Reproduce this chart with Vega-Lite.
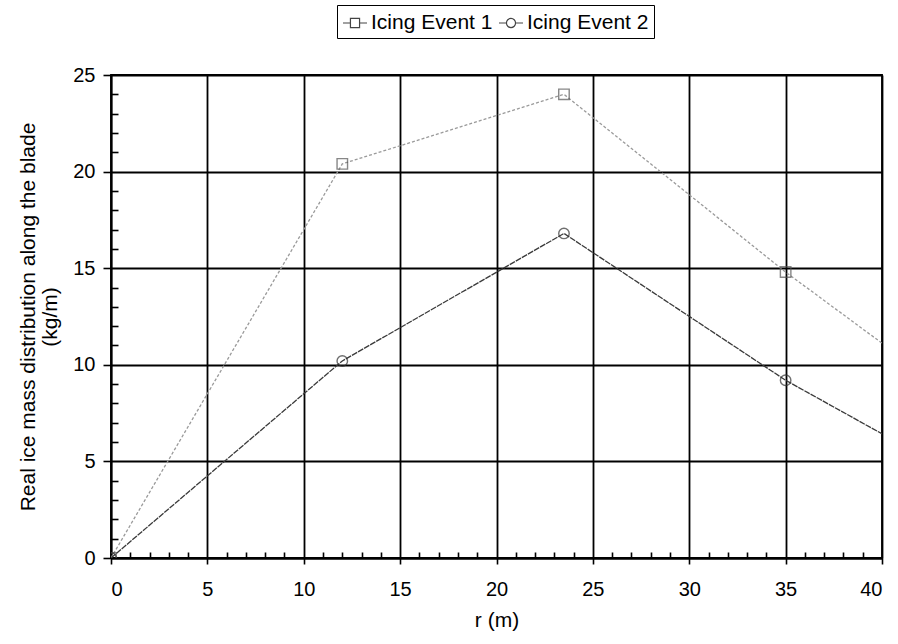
{
  "$schema": "https://vega.github.io/schema/vega-lite/v6.json",
  "width": 771,
  "height": 483,
  "autosize": {"type": "none"},
  "padding": {"left": 111, "top": 75, "right": 16, "bottom": 86},
  "background": "white",
  "config": {
    "font": "Liberation Sans",
    "view": {"stroke": "black", "strokeWidth": 1.8}
  },
  "data": {
    "values": [
      {"r": 0, "mass": 0, "series": "Icing Event 1"},
      {"r": 12, "mass": 20.4, "series": "Icing Event 1"},
      {"r": 23.5, "mass": 24.0, "series": "Icing Event 1"},
      {"r": 35, "mass": 14.8, "series": "Icing Event 1"},
      {"r": 46, "mass": 6.7, "series": "Icing Event 1"},
      {"r": 0, "mass": 0, "series": "Icing Event 2"},
      {"r": 12, "mass": 10.2, "series": "Icing Event 2"},
      {"r": 23.5, "mass": 16.8, "series": "Icing Event 2"},
      {"r": 35, "mass": 9.2, "series": "Icing Event 2"},
      {"r": 46, "mass": 3.1, "series": "Icing Event 2"}
    ]
  },
  "encoding": {
    "x": {
      "field": "r", "type": "quantitative",
      "scale": {"domain": [0, 40], "nice": false},
      "axis": {
        "title": "r (m)",
        "titleFontSize": 21, "titleFontWeight": "normal", "titleColor": "black", "titlePadding": 10,
        "values": [0,1,2,3,4,5,6,7,8,9,10,11,12,13,14,15,16,17,18,19,20,21,22,23,24,25,26,27,28,29,30,31,32,33,34,35,36,37,38,39,40],
        "labelExpr": "datum.value % 5 === 0 ? datum.label : ''",
        "labelFontSize": 20, "labelColor": "black", "labelPadding": 15,
        "domainColor": "black", "domainWidth": 1.8,
        "tickColor": "black", "tickWidth": 1.6,
        "tickSize": {"condition": {"test": "datum.value % 5 !== 0", "value": -6}, "value": 6},
        "grid": true, "gridColor": "black", "gridWidth": 1.8,
        "gridOpacity": {"condition": {"test": "datum.value % 5 === 0", "value": 1}, "value": 0}
      }
    },
    "y": {
      "field": "mass", "type": "quantitative",
      "scale": {"domain": [0, 25], "nice": false},
      "axis": {
        "title": ["Real ice mass distribution along the blade", "(kg/m)"],
        "titleFontSize": 21, "titleFontWeight": "normal", "titleColor": "black", "titlePadding": 12, "titleLineHeight": 22,
        "values": [0,1,2,3,4,5,6,7,8,9,10,11,12,13,14,15,16,17,18,19,20,21,22,23,24,25],
        "labelExpr": "datum.value % 5 === 0 ? datum.label : ''",
        "labelFontSize": 20, "labelColor": "black", "labelPadding": 8,
        "domainColor": "black", "domainWidth": 1.8,
        "tickColor": "black", "tickWidth": 1.6,
        "tickSize": {"condition": {"test": "datum.value % 5 !== 0", "value": -7}, "value": 8},
        "grid": true, "gridColor": "black", "gridWidth": 1.8,
        "gridOpacity": {"condition": {"test": "datum.value % 5 === 0", "value": 1}, "value": 0}
      }
    }
  },
  "layer": [
    {
      "mark": {"type": "line", "clip": true, "strokeWidth": 1.3},
      "encoding": {
        "color": {"field": "series", "type": "nominal", "scale": {"domain": ["Icing Event 1", "Icing Event 2"], "range": ["#9a9a9a", "#3a3a3a"]}, "legend": null},
        "strokeDash": {"field": "series", "type": "nominal", "scale": {"domain": ["Icing Event 1", "Icing Event 2"], "range": [[3, 2], [6, 1]]}, "legend": null}
      }
    },
    {
      "mark": {"type": "point", "clip": true, "filled": false, "size": 110, "strokeWidth": 1.4},
      "encoding": {
        "shape": {"field": "series", "type": "nominal", "scale": {"domain": ["Icing Event 1", "Icing Event 2"], "range": ["square", "circle"]}, "legend": null},
        "color": {"field": "series", "type": "nominal", "scale": {"domain": ["Icing Event 1", "Icing Event 2"], "range": ["#555555", "#333333"]}, "legend": null}
      }
    },
    {
      "transform": [{"filter": "false"}],
      "mark": {"type": "point", "filled": false, "strokeWidth": 1.2, "color": "#444444"},
      "encoding": {
        "shape": {
          "field": "series", "type": "nominal",
          "scale": {"domain": ["Icing Event 1", "Icing Event 2"], "range": [
            "M-1,0H-0.38M0.38,0H1M-0.38,-0.38H0.38V0.38H-0.38Z",
            "M-1,0H-0.38M0.38,0H1M0.38,0A0.38,0.38,0,1,1,-0.38,0A0.38,0.38,0,1,1,0.38,0Z"
          ]},
          "legend": {
            "title": null, "orient": "none", "direction": "horizontal",
            "legendX": 226, "legendY": -70,
            "labelFontSize": 21, "labelColor": "black", "labelOffset": 3,
            "symbolSize": 576, "symbolStrokeColor": "#444444", "symbolStrokeWidth": 1.2, "symbolFillColor": "transparent",
            "strokeColor": "black", "padding": 5, "columnPadding": 3,
            "symbolOpacity": 1
          }
        }
      }
    }
  ],
  "resolve": {"scale": {"shape": "independent", "color": "independent"}}
}
